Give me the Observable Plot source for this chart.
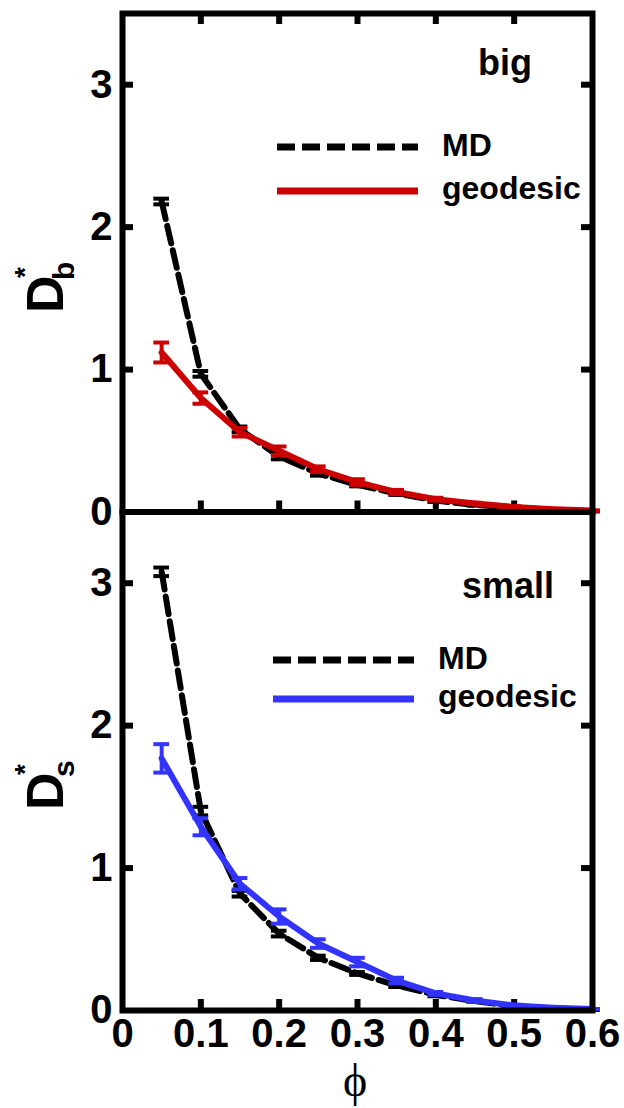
<!DOCTYPE html>
<html><head><meta charset="utf-8">
<script src="https://cdn.jsdelivr.net/npm/d3@7"></script>
<script src="https://cdn.jsdelivr.net/npm/@observablehq/plot@0.6"></script>
<style>
html,body{margin:0;padding:0;background:#fff;}
#wrap{position:relative;width:624px;height:1108px;overflow:hidden;}
#wrap svg{position:absolute;left:0;top:0;}
</style></head><body><div id="wrap"></div>
<script>
// ---- data ----
const phi = [0.05, 0.10, 0.15, 0.20, 0.25, 0.30, 0.35, 0.40, 0.45, 0.50, 0.55, 0.60];
const mdBig      = [2.18, 0.97, 0.58, 0.39, 0.27, 0.19, 0.13, 0.08, 0.05, 0.03, 0.015, 0.005];
const mdBigErr   = [0.02, 0.02, 0.02, 0.02, 0.015, 0.01, 0.01, 0.01, 0.005, 0.005, 0, 0];
const geoBig     = [1.12, 0.80, 0.56, 0.43, 0.30, 0.21, 0.14, 0.09, 0.06, 0.035, 0.02, 0.01];
const geoBigErr  = [0.07, 0.04, 0.03, 0.03, 0.02, 0.02, 0.015, 0.01, 0.005, 0.005, 0, 0];
const mdSmall     = [3.08, 1.40, 0.82, 0.54, 0.37, 0.26, 0.175, 0.11, 0.065, 0.03, 0.015, 0.005];
const mdSmallErr  = [0.03, 0.03, 0.02, 0.02, 0.015, 0.01, 0.01, 0.01, 0.005, 0.005, 0, 0];
const geoSmall    = [1.77, 1.29, 0.89, 0.66, 0.47, 0.34, 0.21, 0.12, 0.07, 0.035, 0.02, 0.01];
const geoSmallErr = [0.10, 0.06, 0.04, 0.05, 0.03, 0.03, 0.02, 0.01, 0.01, 0.005, 0, 0];
const xTicks = [0, 0.1, 0.2, 0.3, 0.4, 0.5, 0.6];
const xInnerTicks = [0.1, 0.2, 0.3, 0.4, 0.5];
const yTicks = [0, 1, 2, 3];
const yInnerTicks = [1, 2, 3];
const seriesNames = ["MD", "geodesic"];
const panelNames = ["big", "small"];
const yTitleSubs = ["b", "s"];
const xTitle = "\u03D5";

const W = 624, H = 1108;
const ML = 122, MR = 32;
const TICK = 11;
const FONT = "'Liberation Sans', Arial, Helvetica, sans-serif";
const RED = "#cc0000", BLUE = "#3333ff";

function panel(o) {
  const rows = phi.map((p, i) => ({p, md: o.md[i], mdErr: o.mdErr[i], geo: o.geo[i], geoErr: o.geoErr[i]}));
  const fw = W - ML - MR;            // frame width
  const fh = o.bottom - o.top;       // frame height
  const marks = [
    Plot.axisY({anchor: "left", ticks: yTicks, tickSize: 0, tickPadding: 10, fontSize: 40, tickFormat: d => String(d), label: null}),
    // inward ticks
    Plot.tickY(yInnerTicks, {y: d => d, insetRight: fw - TICK, stroke: "black", strokeWidth: 6}),
    Plot.tickY(yInnerTicks, {y: d => d, insetLeft: fw - TICK, stroke: "black", strokeWidth: 6}),
    Plot.tickX(xInnerTicks, {x: d => d, insetTop: fh - TICK, stroke: "black", strokeWidth: 6}),
  ];
  if (o.topTicks) marks.push(Plot.tickX(xInnerTicks, {x: d => d, insetBottom: fh - TICK, stroke: "black", strokeWidth: 6}));
  if (o.xLabels) marks.push(Plot.axisX({anchor: "bottom", ticks: xTicks, tickSize: 0, tickPadding: 8, fontSize: 40, tickFormat: d => String(d), label: null}));
  else marks.push(Plot.axisX({ticks: [], label: null}));
  marks.push(
    // MD
    Plot.line(rows, {x: "p", y: "md", stroke: "black", strokeWidth: 6, strokeDasharray: "18,7"}),
    Plot.ruleX(rows, {x: "p", y1: d => d.md - d.mdErr, y2: d => d.md + d.mdErr, stroke: "black", strokeWidth: 4}),
    Plot.ruleY(rows, {y: d => d.md + d.mdErr, x1: d => d.p - 0.01, x2: d => d.p + 0.01, stroke: "black", strokeWidth: 4}),
    Plot.ruleY(rows, {y: d => d.md - d.mdErr, x1: d => d.p - 0.01, x2: d => d.p + 0.01, stroke: "black", strokeWidth: 4}),
    // geodesic
    Plot.line(rows, {x: "p", y: "geo", stroke: o.color, strokeWidth: 6}),
    Plot.ruleX(rows, {x: "p", y1: d => d.geo - d.geoErr, y2: d => d.geo + d.geoErr, stroke: o.color, strokeWidth: 4}),
    Plot.ruleY(rows, {y: d => d.geo + d.geoErr, x1: d => d.p - 0.01, x2: d => d.p + 0.01, stroke: o.color, strokeWidth: 4}),
    Plot.ruleY(rows, {y: d => d.geo - d.geoErr, x1: d => d.p - 0.01, x2: d => d.p + 0.01, stroke: o.color, strokeWidth: 4}),
    Plot.frame({stroke: "black", strokeWidth: 6})
  );
  const svg = Plot.plot({
    width: W, height: H,
    marginLeft: ML, marginRight: MR, marginTop: o.top, marginBottom: H - o.bottom,
    x: {domain: [0, 0.6]},
    y: {domain: [0, 3.5]},
    style: {background: "transparent", fontFamily: FONT, fontWeight: "bold", color: "black", overflow: "visible"},
    marks
  });
  const g = d3.select(svg).append("g").attr("font-family", FONT).attr("font-weight", "bold")
    .attr("fill", "black").attr("text-anchor", "start");
  // panel label
  g.append("text").attr("x", o.lab[0]).attr("y", o.lab[1]).attr("font-size", 36).text(o.name);
  // legend
  const L = o.leg;
  g.append("line").attr("x1", L.x1).attr("x2", L.x2).attr("y1", L.y1).attr("y2", L.y1)
    .attr("stroke", "black").attr("stroke-width", 7).attr("stroke-dasharray", "18,7");
  g.append("line").attr("x1", L.x1).attr("x2", L.x2).attr("y1", L.y2).attr("y2", L.y2)
    .attr("stroke", o.color).attr("stroke-width", 7);
  g.append("text").attr("x", L.tx).attr("y", L.y1 + 9).attr("font-size", 32).text(seriesNames[0]);
  g.append("text").attr("x", L.tx).attr("y", L.y2 + 8).attr("font-size", 32).text(seriesNames[1]);
  // y title D*_x
  const Y = o.ytitle;
  g.append("text").attr("transform", `translate(63,${Y}) rotate(-90)`).attr("font-size", 52).text("D");
  g.append("text").attr("transform", `translate(34,${Y - 35}) rotate(-90)`).attr("font-size", 28).text("*");
  g.append("text").attr("transform", `translate(74,${Y - 33}) rotate(-90)`).attr("font-size", 30).text(o.sub);
  return svg;
}

const wrap = document.getElementById("wrap");
wrap.appendChild(panel({
  md: mdBig, mdErr: mdBigErr, geo: geoBig, geoErr: geoBigErr, color: RED,
  top: 13, bottom: 511.5, topTicks: true, xLabels: false,
  name: panelNames[0], lab: [478, 75], sub: yTitleSubs[0],
  leg: {x1: 277, x2: 418, y1: 147, y2: 191, tx: 442}, ytitle: 313
}));
const s2 = panel({
  md: mdSmall, mdErr: mdSmallErr, geo: geoSmall, geoErr: geoSmallErr, color: BLUE,
  top: 511.5, bottom: 1010, topTicks: false, xLabels: true,
  name: panelNames[1], lab: [462, 598], sub: yTitleSubs[1],
  leg: {x1: 273, x2: 414, y1: 660, y2: 699, tx: 438}, ytitle: 810
});
d3.select(s2).append("text").attr("x", 355).attr("y", 1096).attr("text-anchor", "middle")
  .attr("font-family", "'Liberation Serif', 'DejaVu Serif', serif").attr("font-weight", "normal")
  .attr("font-size", 46).attr("fill", "black").text(xTitle);
wrap.appendChild(s2);
</script></body></html>
